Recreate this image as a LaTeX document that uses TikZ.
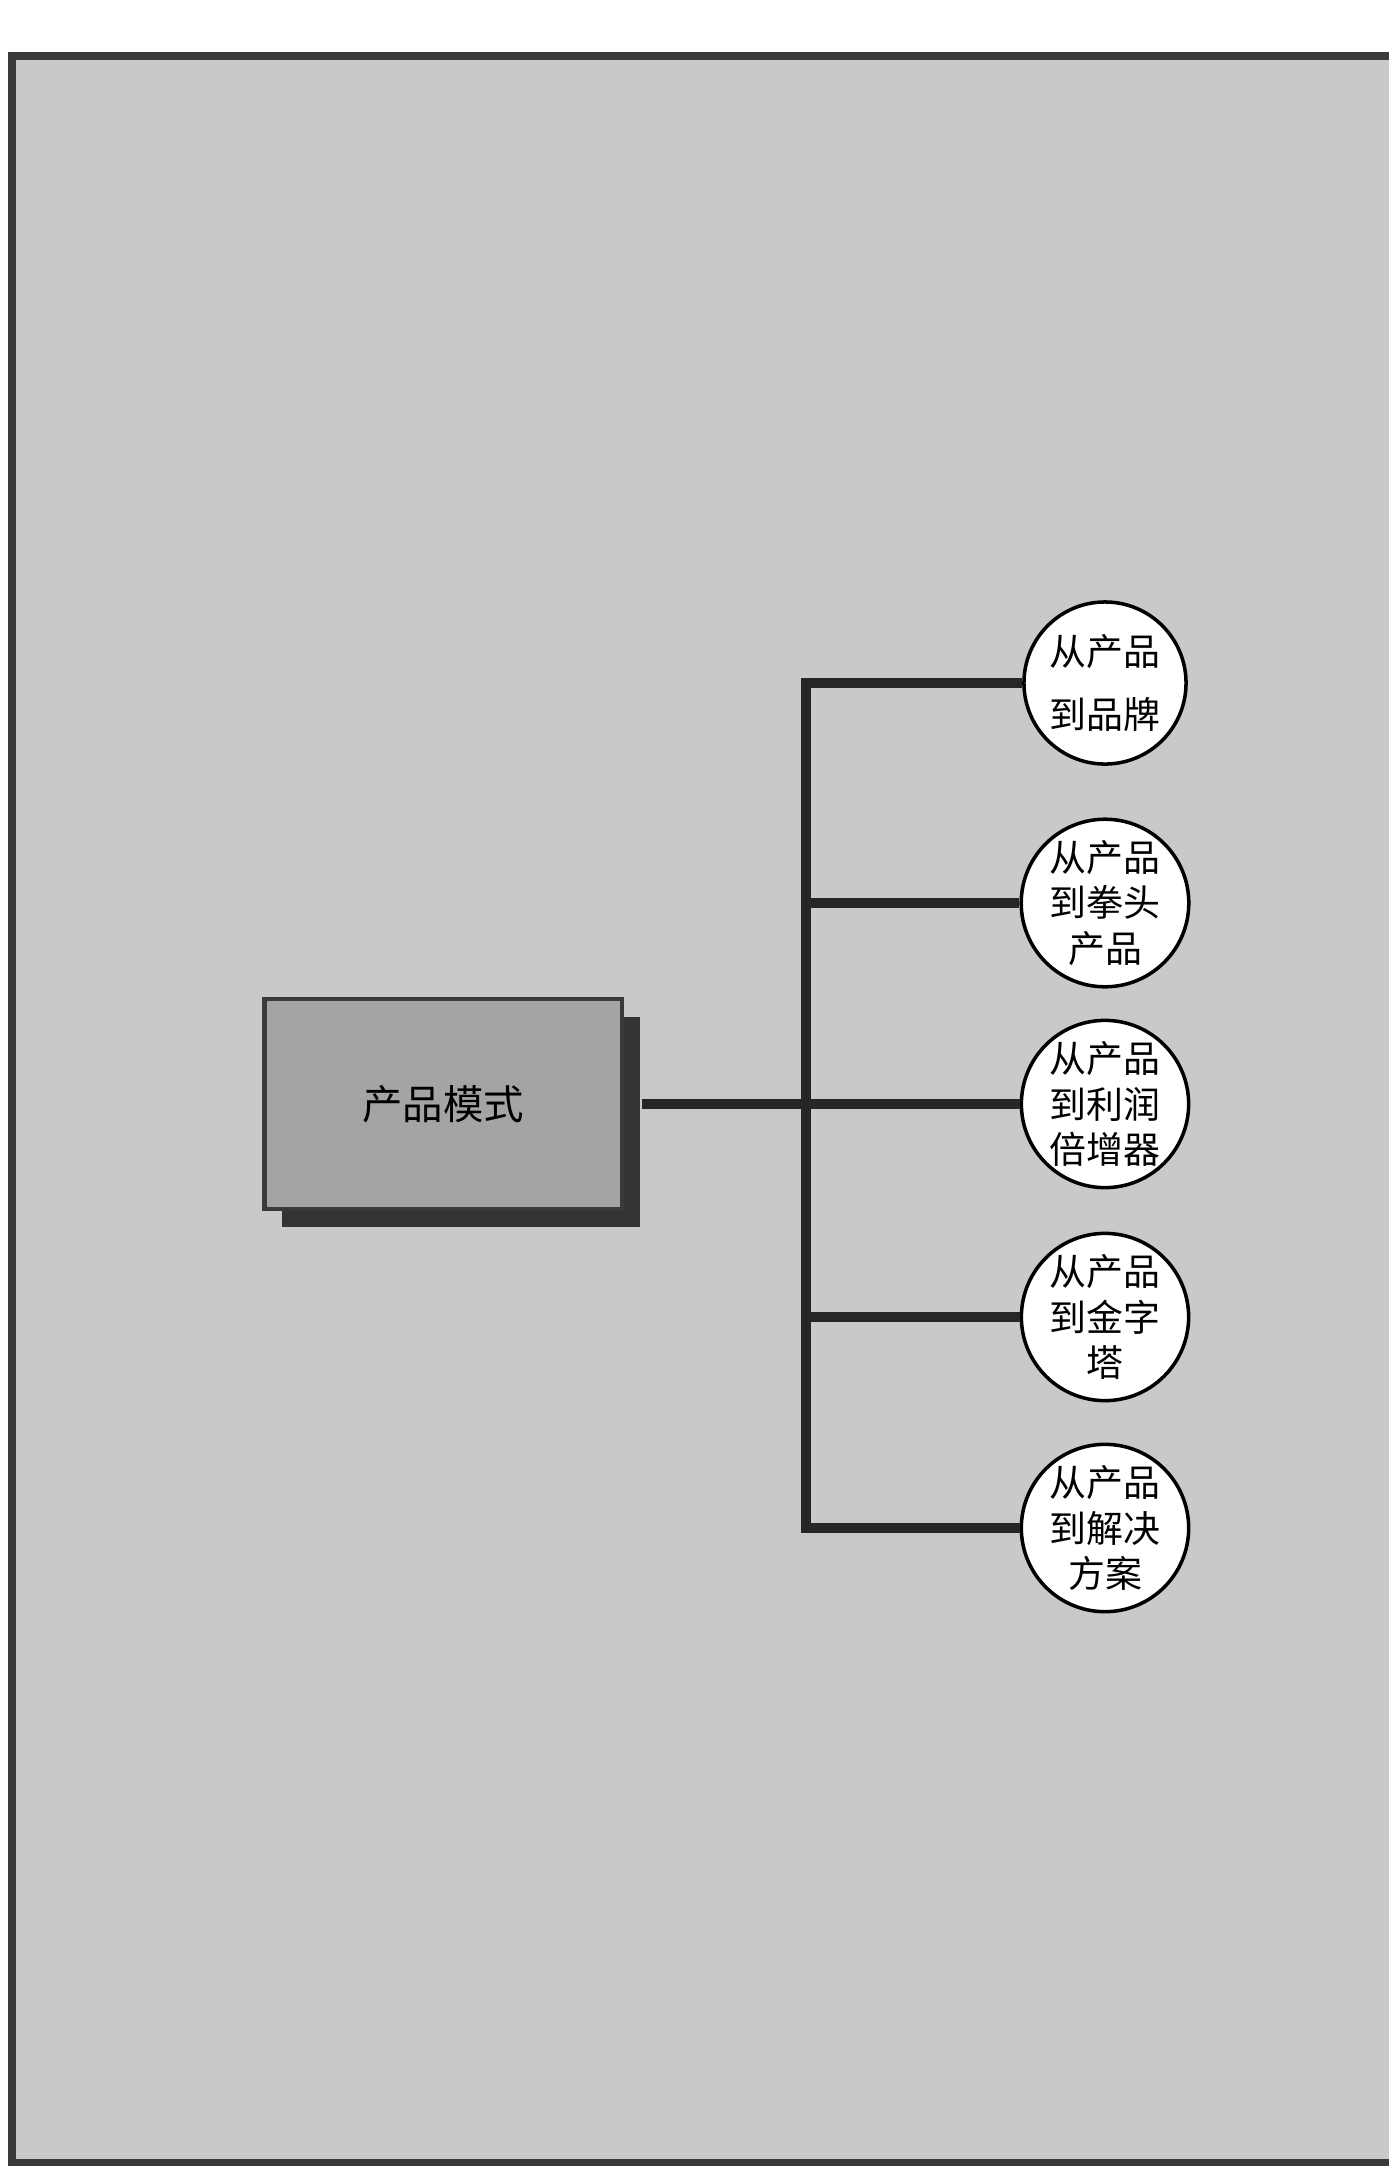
\documentclass[tikz,border=0pt]{standalone}
\usepackage{fontspec}
\newfontfamily\cjk{Noto Sans CJK SC}
\usetikzlibrary{positioning, shadows}
\definecolor{sheetgray}{HTML}{C9C9C9}
\definecolor{boxgray}{HTML}{A4A4A4}
\definecolor{framegray}{HTML}{3A3A3A}

\begin{document}
\begin{tikzpicture}[
                x = 0.01cm, y = -0.01cm,
                modelbox/.style = {
                    rectangle,
                    draw            = framegray,
                    line width      = 1.2pt,
                    fill            = boxgray,
                    minimum width   = 3.57cm,
                    minimum height  = 2.1cm,
                    font            = \cjk\fontsize{11.5}{14}\selectfont,
                    drop shadow     = {shadow xshift=0.18cm, shadow yshift=-0.18cm,
                                       opacity=1, fill=black!80}
                },
                routecircle/.style = {
                    circle,
                    draw            = black,
                    line width      = 1pt,
                    fill            = white,
                    minimum size    = 1.62cm,
                    inner sep       = 0pt,
                    align           = center,
                    font            = \cjk\fontsize{10.5}{13}\selectfont
                },
                trunk/.style = {line width = 2.8pt, draw = black!85}
            ]

                % page and frame
                \useasboundingbox (0, 0) rectangle (1389, 2178);
                \fill[white] (0, 0) rectangle (1389, 2178);
                \fill[sheetgray] (12, 56) rectangle (1389, 2162);
                \draw[framegray, line width = 2pt] (1389, 56) -- (12, 56) -- (12, 2162) -- (1389, 2162);

                % routes
                \node[routecircle] (c1) at (1105, 683) {从产品\\[5pt]到品牌};
                \node[routecircle] (c2) at (1105, 903) {从产品\\到拳头\\产品};
                \node[routecircle] (c3) at (1105, 1104) {从产品\\到利润\\倍增器};
                \node[routecircle] (c4) at (1105, 1317) {从产品\\到金字\\塔};
                \node[routecircle] (c5) at (1105, 1528) {从产品\\到解决\\方案};
                \coordinate (bus) at (806, 1104);

                \node[modelbox] (model) at (443, 1104) {产品模式};

                \draw[trunk] ([xshift=0.18cm]model.east) -- (c3.west);
                \draw[trunk] (c1.west) -- (c1.west -| bus) -- (c5.west -| bus) -- (c5.west);
                \foreach \i in {2, 4}
                    \draw[trunk] (c\i.west) -- (c\i.west -| bus);
            \end{tikzpicture}
\end{document}
